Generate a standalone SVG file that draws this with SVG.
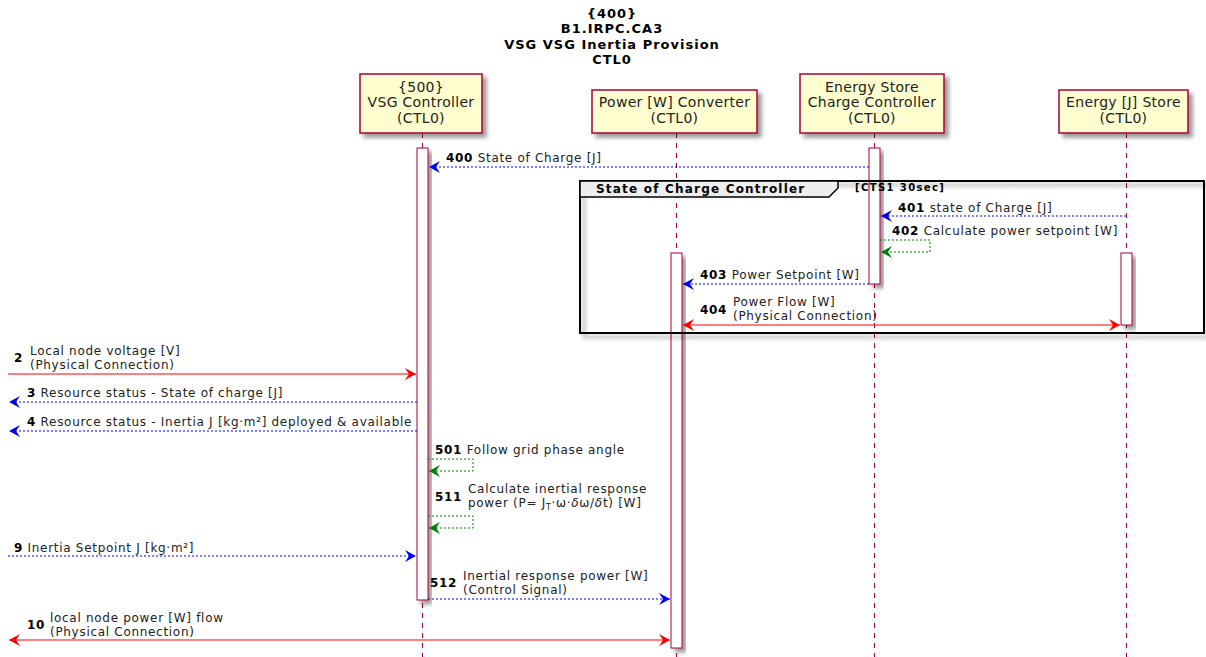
<svg xmlns="http://www.w3.org/2000/svg" width="1206" height="657" viewBox="0 0 1206 657">
<style>
  text { font-family: "DejaVu Sans", "Liberation Sans", sans-serif; fill: #000; }
  .title { font-size: 13px; font-weight: bold; text-anchor: middle; letter-spacing: 1px; }
  .pname { font-size: 14px; text-anchor: middle; fill: #222; letter-spacing: 0.3px; }
  .msg { font-size: 12px; fill: #222; letter-spacing: 0.7px; }
  .num { font-size: 12px; font-weight: bold; fill: #000; letter-spacing: 0.7px; }
  .part { fill: #FEFECE; stroke: #A80036; stroke-width: 1.5; }
  .life { stroke: #A80036; stroke-width: 1; stroke-dasharray: 5 5; fill: none; }
  .act { fill: #FFFFFF; stroke: #A80036; stroke-width: 1; }
  .blue { stroke: #0000FF; stroke-width: 1; stroke-dasharray: 2 2; fill: none; }
  .green { stroke: #008000; stroke-width: 1; stroke-dasharray: 2 2; fill: none; }
  .red { stroke: #FF0000; stroke-width: 1; fill: none; }
  .frame { fill: none; stroke: #000; stroke-width: 2; }
  .ftab { fill: #EEEEEE; stroke: #000; stroke-width: 1.5; }
  .fname { font-size: 12px; font-weight: bold; letter-spacing: 1.2px; }
  .fcond { font-size: 10px; font-weight: bold; letter-spacing: 1.4px; }
</style>
<defs>
  <filter id="shadow" x="-20%" y="-20%" width="150%" height="150%">
    <feGaussianBlur in="SourceAlpha" stdDeviation="2"/>
    <feOffset dx="4" dy="4" result="b"/>
    <feComponentTransfer><feFuncA type="linear" slope="0.4"/></feComponentTransfer>
    <feMerge><feMergeNode/><feMergeNode in="SourceGraphic"/></feMerge>
  </filter>
  <marker id="hBlue" markerWidth="12" markerHeight="12" refX="11" refY="6" orient="auto-start-reverse" markerUnits="userSpaceOnUse">
    <path d="M0,0 L11,6 L0,12 L4,6 Z" fill="#0000FF"/>
  </marker>
  <marker id="hGreen" markerWidth="12" markerHeight="12" refX="11" refY="6" orient="auto-start-reverse" markerUnits="userSpaceOnUse">
    <path d="M0,0 L11,6 L0,12 L4,6 Z" fill="#008000"/>
  </marker>
  <marker id="hRed" markerWidth="12" markerHeight="12" refX="11" refY="6" orient="auto-start-reverse" markerUnits="userSpaceOnUse">
    <path d="M0,0 L11,6 L0,12 L4,6 Z" fill="#FF0000"/>
  </marker>
</defs>

<rect width="1206" height="657" fill="#FFFFFF"/>

<!-- title -->
<g id="title">
  <text class="title" x="612" y="18">{400}</text>
  <text class="title" x="612" y="33">B1.IRPC.CA3</text>
  <text class="title" x="612" y="49">VSG VSG Inertia Provision</text>
  <text class="title" x="612" y="64">CTL0</text>
</g>

<!-- lifelines -->
<g id="lifelines">
  <line class="life" x1="422.5" y1="133" x2="422.5" y2="657"/>
  <line class="life" x1="676.5" y1="133" x2="676.5" y2="657"/>
  <line class="life" x1="874.5" y1="133" x2="874.5" y2="657"/>
  <line class="life" x1="1126.5" y1="133" x2="1126.5" y2="657"/>
</g>

<!-- participants -->
<g id="vsg-controller">
  <rect class="part" x="360" y="74" width="122" height="59" filter="url(#shadow)"/>
  <text class="pname" x="421" y="92">{500}</text>
  <text class="pname" x="421" y="107">VSG Controller</text>
  <text class="pname" x="421" y="123">(CTL0)</text>
</g>
<g id="power-converter">
  <rect class="part" x="592" y="90" width="165" height="43" filter="url(#shadow)"/>
  <text class="pname" x="674.5" y="107">Power [W] Converter</text>
  <text class="pname" x="674.5" y="123">(CTL0)</text>
</g>
<g id="charge-controller">
  <rect class="part" x="800" y="74" width="144" height="59" filter="url(#shadow)"/>
  <text class="pname" x="872" y="92">Energy Store</text>
  <text class="pname" x="872" y="107">Charge Controller</text>
  <text class="pname" x="872" y="123">(CTL0)</text>
</g>
<g id="energy-store">
  <rect class="part" x="1059" y="90" width="129" height="43" filter="url(#shadow)"/>
  <text class="pname" x="1123.5" y="107">Energy [J] Store</text>
  <text class="pname" x="1123.5" y="123">(CTL0)</text>
</g>

<!-- activations -->
<g id="activations">
  <rect class="act" x="417" y="148" width="11" height="452" filter="url(#shadow)"/>
  <rect class="act" x="869" y="148" width="11" height="136" filter="url(#shadow)"/>
  <rect class="act" x="671" y="253" width="11" height="395" filter="url(#shadow)"/>
  <rect class="act" x="1121" y="253" width="11" height="72" filter="url(#shadow)"/>
</g>

<!-- loop frame -->
<g id="frame-soc">
  <rect class="frame" x="580" y="181" width="624" height="152" filter="url(#shadow)"/>
  <path class="ftab" d="M580,181 L838,181 L838,188 L829,197 L580,197 Z"/>
  <text class="fname" x="596" y="193">State of Charge Controller</text>
  <text class="fcond" x="855" y="191">[CTS1 30sec]</text>
</g>

<!-- connectors -->
<g id="connectors">
  <line class="blue" x1="869" y1="167" x2="429" y2="167" marker-end="url(#hBlue)"/>
  <line class="blue" x1="1126" y1="216" x2="881" y2="216" marker-end="url(#hBlue)"/>
  <polyline class="green" points="880,240 930,240 930,252 881,252" marker-end="url(#hGreen)"/>
  <line class="blue" x1="869" y1="284" x2="683" y2="284" marker-end="url(#hBlue)"/>
  <line class="red" x1="683" y1="325" x2="1120" y2="325" marker-start="url(#hRed)" marker-end="url(#hRed)"/>
  <line class="red" x1="8" y1="374" x2="416" y2="374" marker-end="url(#hRed)"/>
  <line class="blue" x1="417" y1="402" x2="9" y2="402" marker-end="url(#hBlue)"/>
  <line class="blue" x1="417" y1="431" x2="9" y2="431" marker-end="url(#hBlue)"/>
  <polyline class="green" points="428,459 473,459 473,471 429,471" marker-end="url(#hGreen)"/>
  <polyline class="green" points="428,516 473,516 473,528 429,528" marker-end="url(#hGreen)"/>
  <line class="blue" x1="8" y1="556" x2="416" y2="556" marker-end="url(#hBlue)"/>
  <line class="blue" x1="428" y1="599" x2="670" y2="599" marker-end="url(#hBlue)"/>
  <line class="red" x1="9" y1="640" x2="670" y2="640" marker-start="url(#hRed)" marker-end="url(#hRed)"/>
</g>

<!-- message labels -->
<g id="labels">
  <text x="446" y="162"><tspan class="num">400</tspan><tspan class="msg"> State of Charge [J]</tspan></text>
  <text x="898" y="212"><tspan class="num">401</tspan><tspan class="msg"> state of Charge [J]</tspan></text>
  <text x="892" y="235"><tspan class="num">402</tspan><tspan class="msg"> Calculate power setpoint [W]</tspan></text>
  <text x="700" y="279"><tspan class="num">403</tspan><tspan class="msg"> Power Setpoint [W]</tspan></text>
  <text class="num" x="700" y="314">404</text>
  <text class="msg" x="733" y="306">Power Flow [W]</text>
  <text class="msg" x="733" y="320">(Physical Connection)</text>
  <text class="num" x="14" y="362">2</text>
  <text class="msg" x="30" y="355">Local node voltage [V]</text>
  <text class="msg" x="30" y="369">(Physical Connection)</text>
  <text x="27" y="397"><tspan class="num">3</tspan><tspan class="msg"> Resource status - State of charge [J]</tspan></text>
  <text x="27" y="426"><tspan class="num">4</tspan><tspan class="msg"> Resource status - Inertia J [kg·m²] deployed &amp; available</tspan></text>
  <text x="435" y="454"><tspan class="num">501</tspan><tspan class="msg"> Follow grid phase angle</tspan></text>
  <text class="num" x="435" y="501">511</text>
  <text class="msg" x="468" y="493">Calculate inertial response</text>
  <text class="msg" x="468" y="507">power (P= J<tspan font-size="8" dy="3">T</tspan><tspan dy="-3">·ω·</tspan><tspan font-style="italic">δ</tspan>ω/<tspan font-style="italic">δ</tspan>t) [W]</text>
  <text x="14" y="552"><tspan class="num">9</tspan><tspan class="msg"> Inertia Setpoint J [kg·m²]</tspan></text>
  <text class="num" x="430" y="587">512</text>
  <text class="msg" x="463" y="580">Inertial response power [W]</text>
  <text class="msg" x="463" y="594">(Control Signal)</text>
  <text class="num" x="27" y="629">10</text>
  <text class="msg" x="50" y="622">local node power [W] flow</text>
  <text class="msg" x="50" y="636">(Physical Connection)</text>
</g>
</svg>
